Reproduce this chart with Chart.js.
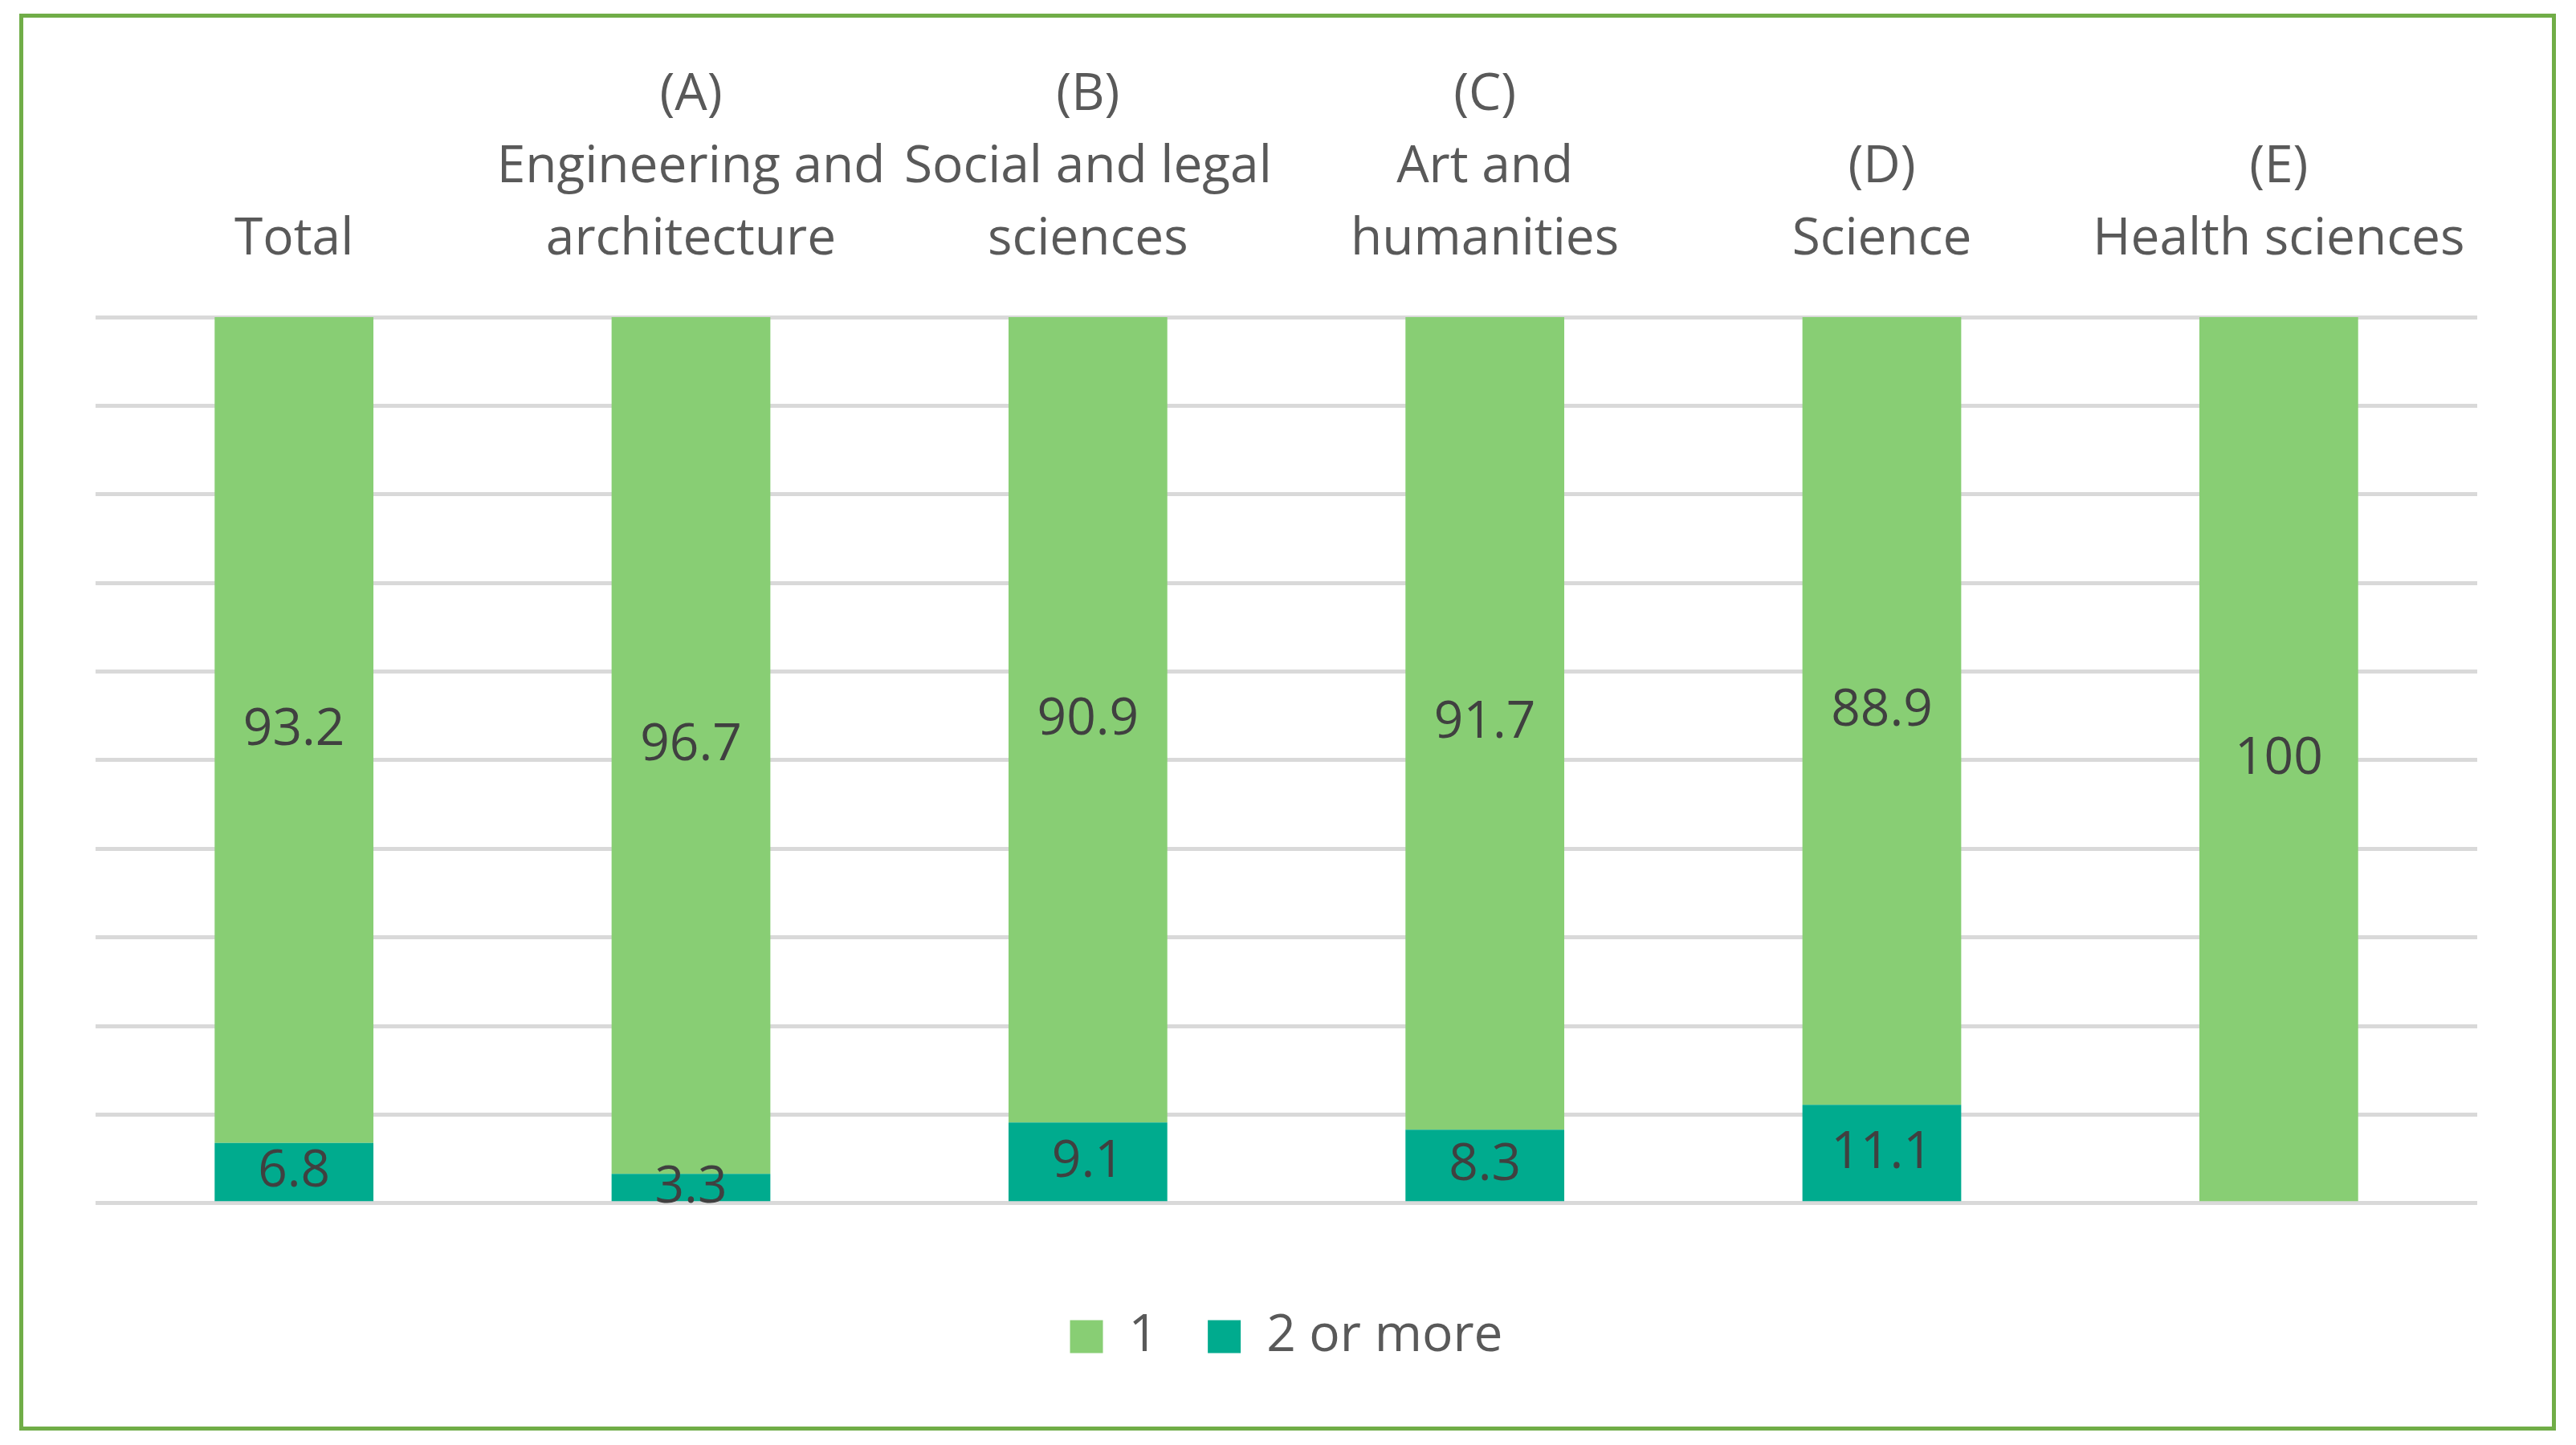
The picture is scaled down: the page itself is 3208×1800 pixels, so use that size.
<!DOCTYPE html>
<html>
<head>
<meta charset="utf-8">
<title>Stacked columns by field</title>
<script src="https://cdn.jsdelivr.net/npm/chart.js@4/dist/chart.umd.min.js"></script>
<style>
  html, body { margin: 0; padding: 0; background: #fff; }
  #frame {
    position: absolute; left: 24px; top: 17px;
    width: 3159px; height: 1765px;
    box-sizing: border-box; border: 5px solid #70AD47;
  }
  #frame canvas { display: block; }
</style>
</head>
<body>
<div id="frame"><canvas id="chart"></canvas></div>
<script>
/* ---- data ---- */
const categories = [
  ['Total'],
  ['(A)', 'Engineering and', 'architecture'],
  ['(B)', 'Social and legal', 'sciences'],
  ['(C)', 'Art and', 'humanities'],
  ['(D)', 'Science'],
  ['(E)', 'Health sciences']
];
const seriesNames = ['1', '2 or more'];
const oneValues = [93.2, 96.7, 90.9, 91.7, 88.9, 100];
const twoOrMoreValues = [6.8, 3.3, 9.1, 8.3, 11.1, 0];
const yTicks = { min: 0, max: 100, step: 10 };

const FONT = '"Open Sans", sans-serif';
const FS = 64;

// values written in the middle of each segment
const segmentLabels = {
  id: 'segmentLabels',
  afterDatasetsDraw(chart){
    const ctx = chart.ctx;
    ctx.save();
    ctx.font = `${FS}px ${FONT}`;
    ctx.fillStyle = '#404040';
    ctx.textAlign = 'center';
    ctx.textBaseline = 'middle';
    chart.data.datasets.forEach((ds, i) => {
      const meta = chart.getDatasetMeta(i);
      meta.data.forEach((bar, j) => {
        const v = ds.data[j];
        if (!v) return;
        const p = bar.getCenterPoint();
        ctx.fillText(String(v), p.x, p.y);
      });
    });
    ctx.restore();
  }
};

new Chart(document.getElementById('chart'), {
  type: 'bar',
  data: {
    labels: categories,
    datasets: [
      { label: seriesNames[1], data: twoOrMoreValues, backgroundColor: '#00AB8E' },
      { label: seriesNames[0], data: oneValues, backgroundColor: '#88CE74' }
    ]
  },
  options: {
    responsive: true,
    maintainAspectRatio: false,
    animation: false,
    devicePixelRatio: 1,
    datasets: { bar: { categoryPercentage: 1, barPercentage: 0.4 } },
    layout: { padding: { left: 90, right: 93, top: 1, bottom: 70 } },
    plugins: {
      tooltip: { enabled: false },
      legend: {
        position: 'bottom',
        reverse: true,
        title: { display: true, text: '', padding: { top: 71, bottom: 0 }, font: { size: 1 } },
        labels: {
          boxWidth: 41, boxHeight: 41, padding: 62,
          color: '#595959',
          font: { family: FONT, size: FS }
        }
      }
    },
    scales: {
      x: {
        position: 'top',
        stacked: true,
        grid: { display: false, drawTicks: false },
        border: { display: false },
        ticks: {
          color: '#595959', padding: 51, maxRotation: 0, autoSkip: false,
          font: { family: FONT, size: FS, lineHeight: '90px' }
        }
      },
      y: {
        stacked: true,
        min: yTicks.min, max: yTicks.max,
        grid: { color: '#D9D9D9', lineWidth: 5, drawTicks: false },
        border: { display: false },
        ticks: { display: false, stepSize: yTicks.step }
      }
    }
  },
  plugins: [segmentLabels]
});
</script>
</body>
</html>
